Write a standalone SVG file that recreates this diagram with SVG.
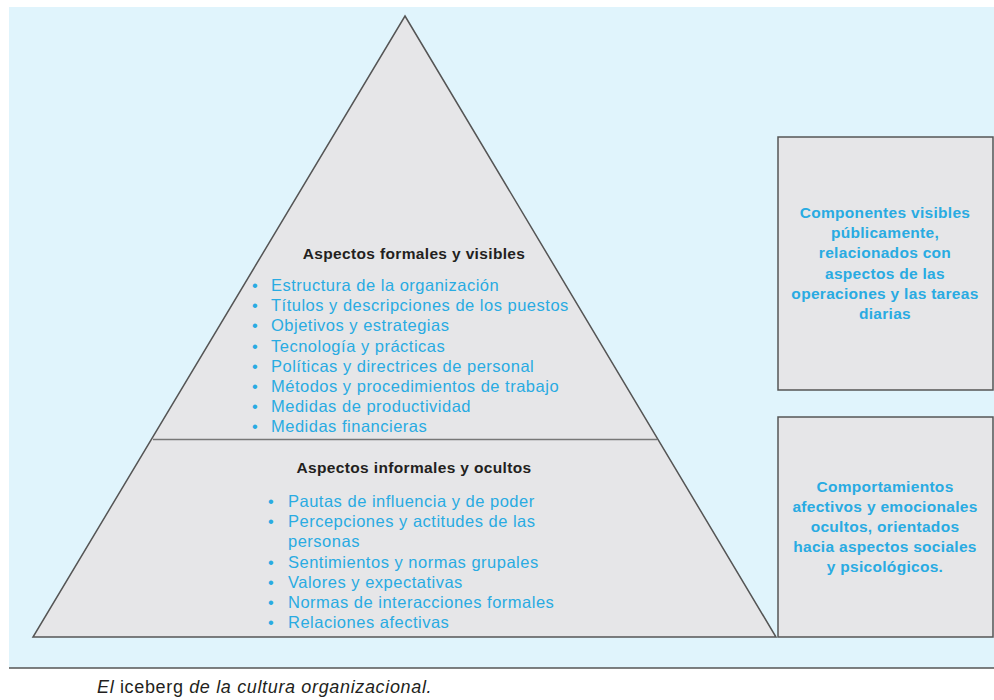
<svg xmlns="http://www.w3.org/2000/svg" width="994" height="700" viewBox="0 0 994 700">
<style>
.shape{fill:#e6e6e8;stroke:#555;stroke-width:1.5}
.hd{font-family:"Liberation Sans",Arial,sans-serif;font-size:15.5px;letter-spacing:0.35px;font-weight:bold;fill:#231f20;text-anchor:middle}
.it{font-family:"Liberation Sans",Arial,sans-serif;font-size:16.5px;letter-spacing:0.5px;fill:#29abe2}
.bx{font-family:"Liberation Sans",Arial,sans-serif;font-size:15.5px;letter-spacing:0.3px;font-weight:bold;fill:#29abe2;text-anchor:middle}
.cap{font-family:"Liberation Sans",Arial,sans-serif;font-size:18px;letter-spacing:0.65px;fill:#231f20}
</style>
<rect x="9" y="7" width="985" height="661" fill="#e0f4fc"/>
<line x1="9" y1="668" x2="994" y2="668" stroke="#555" stroke-width="1.5"/>
<g id="pyramid">
<polygon class="shape" points="405,16 776,637 33,637"/>
<line x1="153" y1="439.5" x2="657" y2="439.5" stroke="#777" stroke-width="1.5"/>
</g>
<g id="formal">
<text class="hd" x="414" y="259">Aspectos formales y visibles</text>
<g class="it">
<text x="252" y="291">•</text><text x="271" y="291">Estructura de la organización</text>
<text x="252" y="311">•</text><text x="271" y="311">Títulos y descripciones de los puestos</text>
<text x="252" y="331">•</text><text x="271" y="331">Objetivos y estrategias</text>
<text x="252" y="352">•</text><text x="271" y="352">Tecnología y prácticas</text>
<text x="252" y="372">•</text><text x="271" y="372">Políticas y directrices de personal</text>
<text x="252" y="392">•</text><text x="271" y="392">Métodos y procedimientos de trabajo</text>
<text x="252" y="412">•</text><text x="271" y="412">Medidas de productividad</text>
<text x="252" y="432">•</text><text x="271" y="432">Medidas financieras</text>
</g>
</g>
<g id="informal">
<text class="hd" x="414" y="473">Aspectos informales y ocultos</text>
<g class="it">
<text x="268" y="507">•</text><text x="288" y="507">Pautas de influencia y de poder</text>
<text x="268" y="527">•</text><text x="288" y="527">Percepciones y actitudes de las</text>
<text x="288" y="547">personas</text>
<text x="268" y="568">•</text><text x="288" y="568">Sentimientos y normas grupales</text>
<text x="268" y="588">•</text><text x="288" y="588">Valores y expectativas</text>
<text x="268" y="608">•</text><text x="288" y="608">Normas de interacciones formales</text>
<text x="268" y="628">•</text><text x="288" y="628">Relaciones afectivas</text>
</g>
</g>
<g id="box-visible">
<rect class="shape" x="778" y="137" width="215" height="253"/>
<text class="bx" x="885" y="218">Componentes visibles</text>
<text class="bx" x="885" y="238">públicamente,</text>
<text class="bx" x="885" y="258">relacionados con</text>
<text class="bx" x="885" y="279">aspectos de las</text>
<text class="bx" x="885" y="299">operaciones y las tareas</text>
<text class="bx" x="885" y="319">diarias</text>
</g>
<g id="box-hidden">
<rect class="shape" x="778" y="417" width="215" height="220"/>
<text class="bx" x="885" y="492">Comportamientos</text>
<text class="bx" x="885" y="512">afectivos y emocionales</text>
<text class="bx" x="885" y="532">ocultos, orientados</text>
<text class="bx" x="885" y="552">hacia aspectos sociales</text>
<text class="bx" x="885" y="572">y psicológicos.</text>
</g>
<g id="caption">
<text class="cap" x="97" y="693"><tspan font-style="italic">El</tspan> iceberg <tspan font-style="italic">de la cultura organizacional.</tspan></text>
</g>
</svg>
